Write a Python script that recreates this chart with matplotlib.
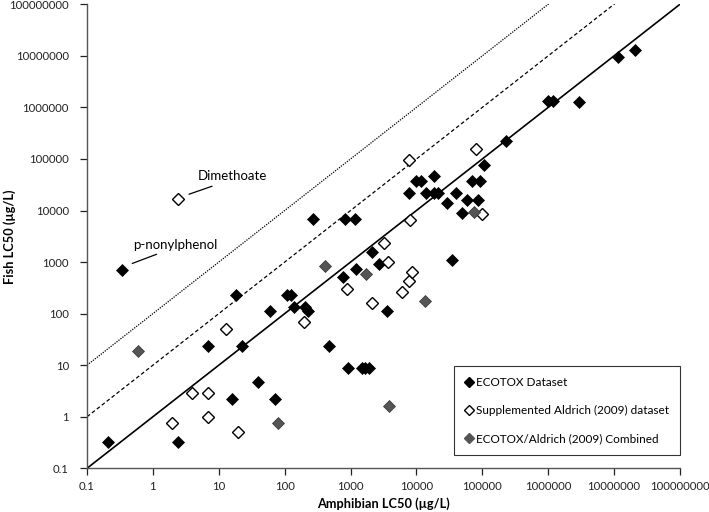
import matplotlib
matplotlib.use("Agg")
import matplotlib.pyplot as plt
from matplotlib.lines import Line2D
import numpy as np

# ECOTOX dataset (amphibian LC50, fish LC50) in ug/L
ecotox_amph = [0.206, 2.43, 0.338, 16, 71.3, 39.8, 6.94, 22.7, 18, 107, 125, 59.8, 138, 204, 229,
               470, 903, 1480, 1660, 1900, 272, 820, 1170, 759, 1210, 2090, 2730, 3610, 34200,
               7600, 9700, 11600, 13800, 18500, 18500, 21400, 28700, 39400, 50000, 59000, 85000,
               71000, 92000, 106000, 228000, 1.0e6, 1.2e6, 2.96e6, 1.15e7, 2.1e7]
ecotox_fish = [0.32, 0.32, 697, 2.17, 2.17, 4.77, 23.8, 23.8, 228, 228, 228, 113, 135, 135, 113,
               23.4, 8.7, 8.7, 8.7, 8.7, 7000, 7000, 7000, 517, 719, 1540, 934, 113, 1120,
               21900, 37000, 37000, 21900, 46000, 21900, 21900, 14000, 22000, 8970, 15800, 15800,
               37000, 37000, 75500, 220000, 1.33e6, 1.33e6, 1.3e6, 9.5e6, 1.32e7]

# Supplemented Aldrich (2009) dataset
aldrich_amph = [2.43, 1.97, 3.96, 6.94, 6.94, 19.8, 12.7, 195, 873, 2090, 3240, 3730, 5960,
                7800, 8600, 7900, 7800, 80000, 97500]
aldrich_fish = [16800, 0.765, 2.84, 2.84, 0.97, 0.51, 49.4, 69, 299, 158, 2360, 982, 264,
                433, 646, 6500, 97000, 154000, 8500]

# ECOTOX/Aldrich (2009) combined
comb_amph = [0.587, 80, 409, 1710, 13500, 3860, 75000]
comb_fish = [19, 0.765, 843, 582, 175, 1.63, 9400]

# reference lines: fish = k * amphibian
ref_factors = [1, 10, 100]
ref_styles = ["-", (0, (3, 2)), (0, (1, 1))]

decades = [0.1, 1, 10, 100, 1000, 10000, 100000, 1000000, 10000000, 100000000]
tick_labels = ["0.1", "1", "10", "100", "1000", "10000", "100000", "1000000",
               "10000000", "100000000"]

plt.rcParams["font.family"] = ["Lato", "DejaVu Sans"]

fig = plt.figure(figsize=(7.09, 5.12), dpi=100)
ax = fig.add_axes([0.1227, 0.0853, 0.8363, 0.9063])

ref_x = np.array([decades[0], decades[-1]])
for k, ls in zip(ref_factors, ref_styles):
    ax.plot(ref_x, ref_x * k, color="black", linestyle=ls,
            linewidth=1.2 if k == 1 else 0.9, zorder=1)

ax.plot(ecotox_amph, ecotox_fish, "D", color="black", markersize=6.5,
        markeredgecolor="black", markeredgewidth=0.5, zorder=3)
ax.plot(aldrich_amph, aldrich_fish, "D", markerfacecolor="white", markersize=6,
        markeredgecolor="black", markeredgewidth=1.0, zorder=3)
ax.plot(comb_amph, comb_fish, "D", color="#555555", markersize=6.5,
        markeredgecolor="#333333", markeredgewidth=0.5, zorder=3)

# annotations
ax.text(4.83, 4.6e4, "Dimethoate", fontsize=9.5, va="center", ha="left")
ax.annotate("", xy=(7.9, 2.96e4), xytext=(3.53, 2.07e4),
            arrowprops=dict(arrowstyle="-", color="black", lw=0.9, shrinkA=0, shrinkB=0))
ax.text(0.499, 2120, "p-nonylphenol", fontsize=9.5, va="center", ha="left")
ax.annotate("", xy=(1.14, 1420), xytext=(0.486, 940),
            arrowprops=dict(arrowstyle="-", color="black", lw=0.9, shrinkA=0, shrinkB=0))

ax.set_xscale("log")
ax.set_yscale("log")
ax.set_xlim(decades[0], decades[-1])
ax.set_ylim(decades[0], decades[-1])
ax.set_xticks(decades)
ax.set_xticklabels(tick_labels)
ax.set_yticks(decades)
ax.set_yticklabels(tick_labels)
ax.minorticks_off()
ax.tick_params(direction="out", length=5, width=0.9, labelsize=8.2, colors="#222222")
ax.tick_params(axis="x", pad=4)
ax.tick_params(axis="y", pad=8)
for side in ["top", "right"]:
    ax.spines[side].set_visible(False)
for side in ["left", "bottom"]:
    ax.spines[side].set_color("#555555")
    ax.spines[side].set_linewidth(1.0)

ax.set_xlabel("Amphibian LC50 (µg/L)", fontsize=9.2, fontweight="bold")
ax.set_ylabel("Fish LC50 (µg/L)", fontsize=9.2, fontweight="bold")
ax.xaxis.set_label_coords(0.5, -0.062)
ax.yaxis.set_label_coords(-0.119, 0.5)

handles = [
    Line2D([], [], marker="D", linestyle="none", color="black", markersize=5),
    Line2D([], [], marker="D", linestyle="none", markerfacecolor="white",
           markeredgecolor="black", markersize=5),
    Line2D([], [], marker="D", linestyle="none", color="#555555", markersize=5),
]
labels = ["ECOTOX Dataset", "Supplemented Aldrich (2009) dataset",
          "ECOTOX/Aldrich (2009) Combined"]
leg = ax.legend(handles, labels, loc="lower right", bbox_to_anchor=(1.0, 0.029),
                fontsize=8.5, frameon=True, fancybox=False, handlelength=0.6,
                handletextpad=0.35, labelspacing=1.45, borderpad=0.9, borderaxespad=0)
leg.get_frame().set_edgecolor("black")
leg.get_frame().set_linewidth(0.8)

fig.savefig("out.png", dpi=100)
